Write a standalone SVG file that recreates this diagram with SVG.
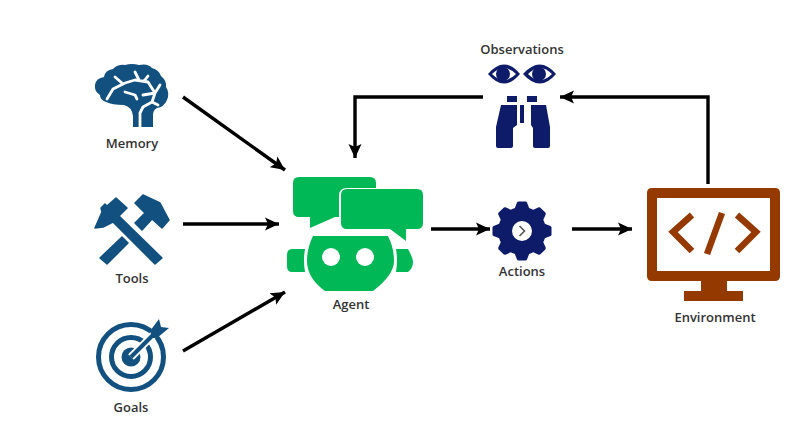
<svg xmlns="http://www.w3.org/2000/svg" width="808" height="440" viewBox="0 0 808 440">
<style>
.lbl{font-family:"Open Sans","Liberation Sans",sans-serif;font-size:13px;font-weight:600;fill:#333;text-anchor:middle}
.conn{fill:none;stroke:#000;stroke-width:3.400}
.blue{fill:#11507f}
.navy{fill:#0d1b69}
.green{fill:#00b856}
.brown{fill:#943a00}
.vein{fill:none;stroke:#fff;stroke-width:2.800;stroke-linecap:round;stroke-linejoin:round}
.tool{fill:#11507f;stroke:#11507f;stroke-width:1.500;stroke-linejoin:round}
</style>
<defs>
<marker id="arrow" markerUnits="userSpaceOnUse" markerWidth="15" markerHeight="14" refX="14" refY="7" orient="auto">
<path d="M0 0.500L14 7L0 13.500L3 7Z" fill="#000"/>
</marker>
<path id="tooth" d="M-7.500-22L-5-28.500Q-4.500-29.500-3.500-29.500L3.500-29.500Q4.500-29.500 5-28.500L7.500-22Z"/>
</defs>
<rect width="808" height="440" fill="#fff"/>
<g id="connectors">
<path class="conn" d="M183 97L285 170" marker-end="url(#arrow)"/>
<path class="conn" d="M183 224L279 224" marker-end="url(#arrow)"/>
<path class="conn" d="M183 351L285 292" marker-end="url(#arrow)"/>
<path class="conn" d="M431 229L490 229" marker-end="url(#arrow)"/>
<path class="conn" d="M572 229L632 229" marker-end="url(#arrow)"/>
<path class="conn" d="M708 184L708 97L560 97" marker-end="url(#arrow)"/>
<path class="conn" d="M483 97L355 97L355 158" marker-end="url(#arrow)"/>
</g>
<g id="memory">
<path class="blue" d="M133 127L133 116Q132 107 124 105Q112 105 106 102Q100 100 100 95Q94 91 95 85Q96 78 104 77Q105 70 113 69Q118 64 125 65Q132 63 139 65Q148 63 152 68Q159 70 161 76Q167 81 166 87Q170 93 167 100Q164 107 157 108Q153 110 153 115L153 127Z"/>
<path class="vein" d="M107 99L113 89L125 83L135 80L148 82L155 93M115 77L122 83M135 72L139 80M148 76L144 81M160 85L155 93L143 95M125 92L135 95L137 99M155 93L152 102L143 107L140 113L140 127M158 105L152 102"/>
<text class="lbl" x="132" y="148">Memory</text>
</g>
<g id="tools">
<path class="tool" d="M95 228L102 212L101 208L105 204L107 206L116 198L127 208L119 216L162 258L155 264L113 222L103 227Z"/>
<path class="tool" d="M143 195L135 203L145 213L135 223L142 230L152 219L162 228L169 220L160 203Z"/>
<path class="tool" d="M122 237L128 243L107 264L100 258Z"/>
<text class="lbl" x="132" y="283">Tools</text>
</g>
<g id="goals">
<circle cx="131" cy="357" r="32.500" fill="none" stroke="#11507f" stroke-width="5"/>
<circle cx="131" cy="357" r="19.500" fill="none" stroke="#11507f" stroke-width="5"/>
<circle cx="131" cy="357" r="9.500" class="blue"/>
<path d="M131 357L160 328" stroke="#fff" stroke-width="8" fill="none"/>
<path d="M131 357L153 335" stroke="#11507f" stroke-width="4" fill="none"/>
<path class="blue" d="M150 331L159 319L161 327L169 328L157 338L152 338Z"/>
<text class="lbl" x="131" y="412">Goals</text>
</g>
<g id="agent">
<path class="green" d="M299 177L370 177Q376 177 376 183L376 188L347 188Q339 188 339 196L339 217L335 217L310 228L310 217L299 217Q293 217 293 211L293 183Q293 177 299 177Z"/>
<path class="green" d="M347 189L417 189Q423 189 423 195L423 223Q423 229 417 229L406 229L406 241L390 229L347 229Q341 229 341 223L341 195Q341 189 347 189Z"/>
<path class="green" d="M313 236L388 236Q394 248 394 261Q394 275 373 291L325 291Q307 278 307 261Q307 248 313 236Z"/>
<path class="green" d="M292 249L305 249Q303 260 305 272L292 272Q287 272 287 266L287 255Q287 249 292 249Z"/>
<path class="green" d="M396 249L408 249Q413 258 413 262Q413 268 408 272L396 272Q398 260 396 249Z"/>
<circle cx="331" cy="257" r="9" fill="#fff"/>
<circle cx="365" cy="257" r="9" fill="#fff"/>
<text class="lbl" x="351" y="309">Agent</text>
</g>
<g id="actions">
<g class="navy">
<circle cx="522" cy="231" r="24"/>
<use href="#tooth" transform="translate(522 231)"/>
<use href="#tooth" transform="translate(522 231) rotate(45)"/>
<use href="#tooth" transform="translate(522 231) rotate(90)"/>
<use href="#tooth" transform="translate(522 231) rotate(135)"/>
<use href="#tooth" transform="translate(522 231) rotate(180)"/>
<use href="#tooth" transform="translate(522 231) rotate(225)"/>
<use href="#tooth" transform="translate(522 231) rotate(270)"/>
<use href="#tooth" transform="translate(522 231) rotate(315)"/>
</g>
<circle cx="522" cy="231" r="10" fill="#fff"/>
<path d="M519.500 226L524.500 231L519.500 236" fill="none" stroke="#555" stroke-width="1.600"/>
<text class="lbl" x="522" y="276">Actions</text>
</g>
<g id="observations">
<text class="lbl" x="522" y="54">Observations</text>
<path class="navy" d="M488 74Q504 55 520 74Q504 93 488 74Z"/>
<path d="M492 74Q504 62 516 74Q504 86 492 74Z" fill="#fff"/>
<circle class="navy" cx="503" cy="74" r="7"/>
<path class="navy" d="M523 74Q540 55 556 74Q540 93 523 74Z"/>
<path d="M528 74Q540 62 552 74Q540 86 528 74Z" fill="#fff"/>
<circle class="navy" cx="539" cy="74" r="7"/>
<rect class="navy" x="507" y="96" width="10" height="6"/>
<rect class="navy" x="527" y="96" width="10" height="6"/>
<rect class="navy" x="520" y="105" width="4" height="18"/>
<path class="navy" d="M501 105L517 105L517 125L513 128L513 146Q513 148 511 148L498 148Q496 148 496 146L496 127Z"/>
<path class="navy" d="M531 105L546 105L550 127L550 146Q550 148 548 148L535 148Q533 148 533 146L533 128L531 125Z"/>
</g>
<g id="environment">
<path class="brown" fill-rule="evenodd" d="M652 188L775 188Q780 188 780 193L780 276Q780 281 775 281L727 281L727 291L743 291L743 301L684 301L684 291L701 291L701 281L652 281Q647 281 647 276L647 193Q647 188 652 188ZM657 198L657 271L770 271L770 198Z"/>
<path d="M692 215L673 232L692 251M737 215L756 232L737 251M722 213L707 254" fill="none" stroke="#943a00" stroke-width="6.500"/>
<text class="lbl" x="715" y="322">Environment</text>
</g>
</svg>
